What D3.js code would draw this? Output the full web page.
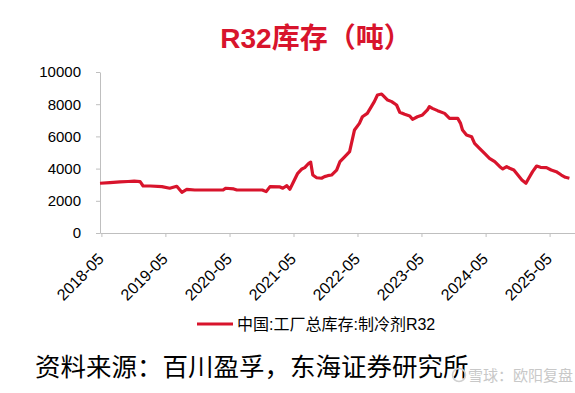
<!DOCTYPE html>
<meta charset="utf-8">
<style>
body { margin: 0; background: #fff; }
svg { display: block; }
text { font-family: "Liberation Sans", Arial, "Noto Sans CJK SC", sans-serif; }
.cjk { font-family: "Liberation Sans", "Noto Sans CJK SC", sans-serif; }
.axis path, .axis line { stroke: #bfbfbf; }
.axis text { fill: #000; font-size: 15px; }
</style>
<body>
<svg id="chart" width="575" height="393"></svg>
<script src="https://cdn.jsdelivr.net/npm/d3@7"></script>
<script>
// R32 factory inventory (tons)
var dates = ["2018-04-23","2018-06-19","2018-08-15","2018-09-30","2018-11-04","2018-12-08","2018-12-25",
  "2019-02-04","2019-04-11","2019-05-26","2019-07-05","2019-08-03","2019-08-31","2019-10-16","2020-03-24",
  "2020-04-10","2020-05-25","2020-06-12","2020-11-04","2020-11-26","2020-12-18","2021-02-13","2021-03-01",
  "2021-03-24","2021-04-10","2021-04-27","2021-05-25","2021-06-18","2021-07-04","2021-07-27","2021-08-07",
  "2021-08-19","2021-09-10","2021-10-08","2021-10-25","2021-11-12","2021-12-04","2022-01-02","2022-01-21",
  "2022-02-18","2022-03-17","2022-04-14","2022-05-12","2022-05-29","2022-06-26","2022-07-19","2022-08-05",
  "2022-08-23","2022-09-16","2022-10-20","2022-11-12","2022-12-10","2022-12-28","2023-01-25","2023-02-23",
  "2023-03-11","2023-04-08","2023-05-07","2023-06-04","2023-06-15","2023-07-02","2023-08-01","2023-09-10",
  "2023-10-08","2023-11-24","2023-12-10","2023-12-21","2024-01-13","2024-02-11","2024-02-28","2024-03-27",
  "2024-04-25","2024-05-23","2024-06-22","2024-07-21","2024-08-07","2024-08-29","2024-09-15","2024-10-09",
  "2024-11-01","2024-11-24","2024-12-17","2025-01-02","2025-01-24","2025-02-16","2025-03-10","2025-04-13",
  "2025-05-10","2025-06-08","2025-07-07","2025-07-30","2025-08-22"];
var stock = [3090,3130,3180,3200,3220,3190,2920,
  2920,2880,2780,2900,2530,2710,2670,2670,
  2780,2740,2670,2670,2570,2880,2860,2780,
  2940,2710,3090,3710,3980,4060,4330,4400,
  3600,3430,3400,3500,3560,3600,3910,4430,
  4740,5050,6400,6810,7220,7430,7850,8160,
  8570,8630,8260,8160,7950,7500,7370,7270,
  7060,7220,7330,7640,7850,7740,7600,7430,
  7120,7120,6810,6400,6090,5980,5570,5260,
  4950,4640,4430,4120,3980,4120,4020,3910,
  3600,3290,3090,3400,3810,4160,4080,4060,
  3910,3810,3600,3460,3400];
var tickLabels = ["2018-05","2019-05","2020-05","2021-05","2022-05","2023-05","2024-05","2025-05"];
var yTicks = [0,2000,4000,6000,8000,10000];
var seriesName = "中国:工厂总库存:制冷剂R32";

var red = "#d8142c";
var svg = d3.select("#chart");
var parse = d3.utcParse("%Y-%m-%d");
var parseM = d3.utcParse("%Y-%m");
var data = dates.map(function(d, i) { return {date: parse(d), value: stock[i]}; });

var x = d3.scaleUtc()
    .domain([parseM(tickLabels[0]), parseM(tickLabels[tickLabels.length - 1])])
    .range([101.4, 549.6]);
x.domain([x.invert(100), x.invert(575)]).range([100, 575]);

var y = d3.scaleLinear().domain([0, 10000]).range([233, 72]);

// y axis
svg.append("g").attr("class", "axis").attr("transform", "translate(100,0)")
    .call(d3.axisLeft(y).tickValues(yTicks).tickFormat(d3.format("d"))
      .tickSize(4).tickPadding(15).tickSizeOuter(0));

// x axis
var gx = svg.append("g").attr("class", "axis").attr("transform", "translate(0,233)")
    .call(d3.axisBottom(x).tickValues(tickLabels.map(parseM)).tickSize(4).tickSizeOuter(0)
      .tickFormat(d3.utcFormat("%Y-%m")));
gx.selectAll("text")
    .attr("text-anchor", "end")
    .attr("dy", null)
    .attr("y", 0)
    .style("font-size", "16px")
    .attr("transform", "translate(3,27) rotate(-45)");

// line
svg.append("path")
    .datum(data)
    .attr("fill", "none")
    .attr("stroke", red)
    .attr("stroke-width", 3.2)
    .attr("stroke-linejoin", "round")
    .attr("d", d3.line().x(function(d) { return x(d.date); }).y(function(d) { return y(d.value); }));

// title
svg.append("text")
    .attr("class", "cjk")
    .attr("x", 316).attr("y", 48)
    .attr("text-anchor", "middle")
    .attr("font-size", 28).attr("font-weight", "bold")
    .attr("fill", red)
    .text("R32库存（吨）");

// legend
svg.append("line").attr("x1", 197).attr("x2", 233).attr("y1", 324).attr("y2", 324)
    .attr("stroke", red).attr("stroke-width", 3);
svg.append("text").attr("class", "cjk")
    .attr("x", 237).attr("y", 329.5).attr("font-size", 16).attr("fill", "#000")
    .text(seriesName);

// source
svg.append("text").attr("class", "cjk")
    .attr("x", 35).attr("y", 376).attr("font-size", 25.5).attr("fill", "#000")
    .text("资料来源：百川盈孚，东海证券研究所");

// watermark
svg.append("circle").attr("cx", 459).attr("cy", 375).attr("r", 6.5)
    .attr("fill", "none").attr("stroke", "#d0d0d0").attr("stroke-width", 1.5);
svg.append("text").attr("class", "cjk")
    .attr("x", 468).attr("y", 381).attr("font-size", 15).attr("fill", "#c8c8c8")
    .text("雪球：欧阳复盘");
</script>
</body>
